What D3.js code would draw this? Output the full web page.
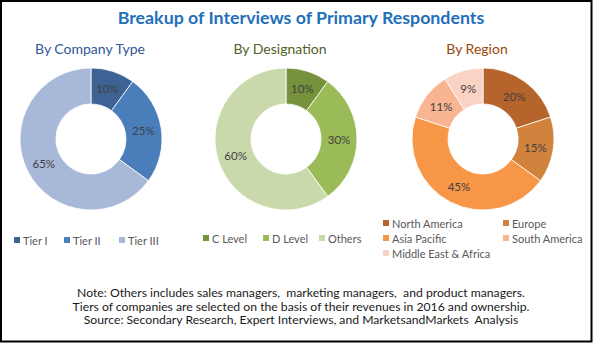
<!DOCTYPE html>
<html>
<head>
<meta charset="utf-8">
<script src="https://cdn.jsdelivr.net/npm/d3@7/dist/d3.min.js"></script>
<style>
  body { margin: 0; background: #fff; }
  svg { display: block; font-family: Lato, "Open Sans", sans-serif; }
</style>
</head>
<body>
<svg id="chart" width="593" height="345"></svg>
<script>
// interview split, in percent
var companyTypes = ["Tier I", "Tier II", "Tier III"];
var companyShares = [10, 25, 65];

var designations = ["C Level", "D Level", "Others"];
var designationShares = [10, 30, 60];

var regions = ["North America", "Europe", "Asia Pacific", "South America", "Middle East & Africa"];
var regionShares = [20, 15, 45, 11, 9];

var notes = [
  "Note: Others includes sales managers,  marketing managers,  and product managers.",
  "Tiers of companies are selected on the basis of their revenues in 2016 and ownership.",
  "Source: Secondary Research, Expert Interviews, and MarketsandMarkets  Analysis"
];

var svg = d3.select("#chart");

svg.append("rect")
  .attr("x", 1).attr("y", 1)
  .attr("width", 590.5).attr("height", 340.5)
  .attr("fill", "#fff")
  .attr("stroke", "#000")
  .attr("stroke-width", 2);

svg.append("text")
  .attr("x", 301).attr("y", 24)
  .attr("text-anchor", "middle")
  .attr("font-size", 17.8)
  .attr("font-weight", "bold")
  .attr("fill", "#1f6fbb")
  .text("Breakup of Interviews of Primary Respondents");

var outerR = 71, innerR = 35;
var pie = d3.pie().sort(null).value(function (d) { return d; });
var arc = d3.arc().innerRadius(innerR).outerRadius(outerR);

// each panel: donut centre, heading, and where its legend entries sit
var panels = [
  {
    title: "By Company Type", titleColor: "#2f5597", titleX: 90,
    cx: 91, cy: 139,
    names: companyTypes, values: companyShares,
    colors: ["#3d6394", "#4a7ebb", "#a7b8d8"],
    legend: [[14, 240], [64, 240], [119, 240]]
  },
  {
    title: "By Designation", titleColor: "#4f6228", titleX: 280,
    cx: 286, cy: 139,
    names: designations, values: designationShares,
    colors: ["#77923c", "#9bbb59", "#c9d9ab"],
    legend: [[203, 238], [263, 238], [319, 238]]
  },
  {
    title: "By Region", titleColor: "#984807", titleX: 477,
    cx: 483, cy: 139,
    names: regions, values: regionShares,
    colors: ["#b5652b", "#d1823d", "#f79646", "#f9b491", "#fbd3c5"],
    legend: [[383, 223], [503, 223], [383, 238], [503, 238], [383, 253]]
  }
];

panels.forEach(function (p) {
  svg.append("text")
    .attr("x", p.titleX).attr("y", 54)
    .attr("text-anchor", "middle")
    .attr("font-size", 14)
    .attr("fill", p.titleColor)
    .text(p.title);

  var g = svg.append("g").attr("transform", "translate(" + p.cx + "," + p.cy + ")");
  var arcs = pie(p.values);

  g.selectAll("path").data(arcs).enter().append("path")
    .attr("d", arc)
    .attr("fill", function (d, i) { return p.colors[i]; })
    .attr("stroke", "#fff")
    .attr("stroke-width", 0.8);

  g.selectAll("text").data(arcs).enter().append("text")
    .attr("transform", function (d) { return "translate(" + arc.centroid(d) + ")"; })
    .attr("text-anchor", "middle")
    .attr("dominant-baseline", "central")
    .attr("font-size", 11.5)
    .attr("fill", "#404040")
    .text(function (d) { return d.data + "%"; });

  var items = svg.append("g").selectAll("g").data(p.names).enter().append("g")
    .attr("transform", function (d, i) { return "translate(" + p.legend[i][0] + "," + p.legend[i][1] + ")"; });

  items.append("rect")
    .attr("x", 0).attr("y", -3)
    .attr("width", 6).attr("height", 6)
    .attr("fill", function (d, i) { return p.colors[i]; });

  items.append("text")
    .attr("x", 9).attr("y", 0)
    .attr("dominant-baseline", "central")
    .attr("font-size", 11)
    .attr("fill", "#595959")
    .text(function (d) { return d; });
});

svg.selectAll(".note").data(notes).enter().append("text")
  .attr("class", "note")
  .attr("x", 301)
  .attr("y", function (d, i) { return 297 + i * 13.5; })
  .attr("text-anchor", "middle")
  .attr("font-size", 12.2)
  .attr("fill", "#1a1a1a")
  .style("white-space", "pre")
  .text(function (d) { return d; });
</script>
</body>
</html>
